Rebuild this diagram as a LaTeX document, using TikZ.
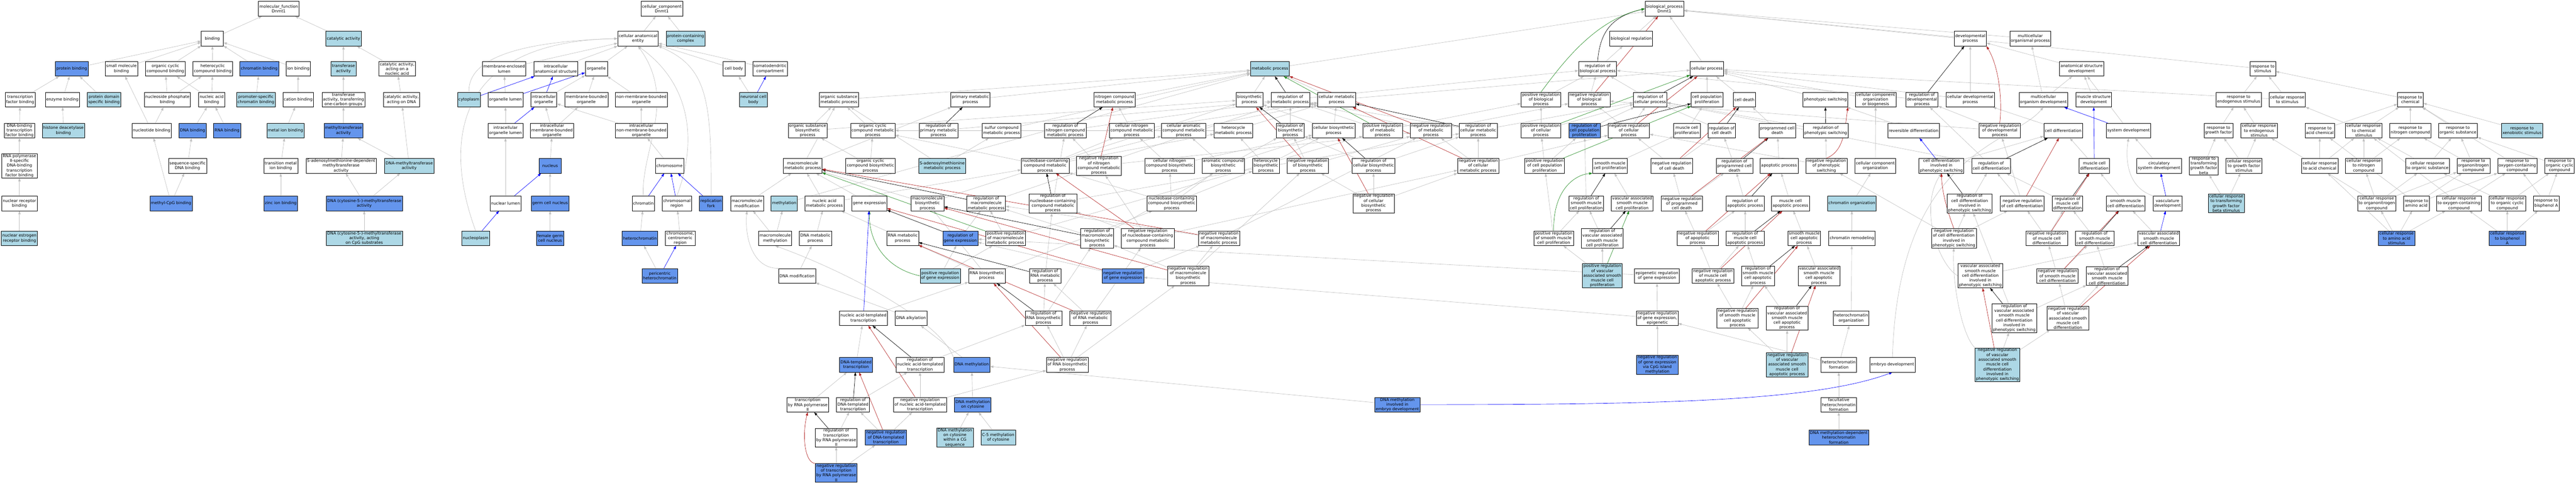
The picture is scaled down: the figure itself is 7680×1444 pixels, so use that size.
\documentclass[tikz,border=0pt]{standalone}
\usepackage{fontspec}
\setmainfont{DejaVu Sans}
\usepackage{xcolor}
\usetikzlibrary{arrows.meta, backgrounds}
\definecolor{lightblue}{HTML}{ADD8E6}
\definecolor{cornflower}{HTML}{6495ED}
\definecolor{edgegray}{HTML}{C0C0C0}
\definecolor{posgreen}{HTML}{228B22}
\definecolor{negred}{HTML}{B22222}
\begin{document}
\begin{tikzpicture}[x=1pt, y=-1pt,
    term/.style = {draw=black, line width=0.9pt, align=center,
        font=\fontsize{12}{14.3}\selectfont, inner xsep=3pt, inner ysep=1.5pt,
        minimum height=44pt, minimum width=66pt},
    wt/.style = {term, fill=white},
    lb/.style = {term, fill=lightblue},
    cb/.style = {term, fill=cornflower},
    isa/.style = {draw=edgegray, line width=1pt, arrows = {-Triangle[length=10pt, width=7pt]}},
    reg/.style = {isa, draw=black},
    posreg/.style = {isa, draw=posgreen},
    negreg/.style = {isa, draw=negred},
    partof/.style = {isa, draw=blue}]
    \useasboundingbox (0,0) rectangle (7680,1444);

    % molecular function
    \node[wt] (mf) at (831,26) {molecular\_function\\Dnmt1};
    \node[wt] (binding) at (633,115) {binding};
    \node[lb] (catact) at (1024,115) {catalytic activity};
    \node[cb] (protbind) at (214,205) {protein binding};
    \node[wt] (smallmol) at (362,205) {small molecule\\binding};
    \node[wt] (orgcycbind) at (493,205) {organic cyclic\\compound binding};
    \node[wt] (hetbind) at (634,205) {heterocyclic\\compound binding};
    \node[cb] (chrombind) at (773,205) {chromatin binding};
    \node[wt] (ionbind) at (889,205) {ion binding};
    \node[lb] (transf) at (1024,205) {transferase\\activity};
    \node[wt] (catnuc) at (1184,205) {catalytic activity,\\acting on a\\nucleic acid};
    \node[wt] (tfbind) at (60,297) {transcription\\factor binding};
    \node[wt] (enzbind) at (186,297) {enzyme binding};
    \node[lb] (pdsbind) at (310,297) {protein domain\\specific binding};
    \node[wt] (nucphos) at (499,297) {nucleoside phosphate\\binding};
    \node[wt] (nabind) at (631,297) {nucleic acid\\binding};
    \node[lb] (promchrom) at (763,297) {promoter-specific\\chromatin binding};
    \node[wt] (cation) at (889,297) {cation binding};
    \node[wt] (onecarbon) at (1024,297) {transferase\\activity, transferring\\one-carbon groups};
    \node[wt] (catdna) at (1197,297) {catalytic activity,\\acting on DNA};
    \node[wt] (dnatf) at (58,389) {DNA-binding\\transcription\\factor binding};
    \node[lb] (hdacbind) at (189,389) {histone deacetylase\\binding};
    \node[wt] (nucleotide) at (452,389) {nucleotide binding};
    \node[cb] (dnabind) at (574,389) {DNA binding};
    \node[cb] (rnabind) at (677,389) {RNA binding};
    \node[lb] (metalion) at (851,389) {metal ion binding};
    \node[cb] (mtase) at (1024,389) {methyltransferase\\activity};
    \node[wt] (pol2tf) at (58,494) {RNA polymerase\\II-specific\\DNA-binding\\transcription\\factor binding};
    \node[wt] (seqdna) at (559,494) {sequence-specific\\DNA binding};
    \node[wt] (transmetal) at (837,494) {transition metal\\ion binding};
    \node[wt] (samdep) at (1017,494) {S-adenosylmethionine-dependent\\methyltransferase\\activity};
    \node[lb] (dnamtase) at (1220,494) {DNA-methyltransferase\\activity};
    \node[wt] (nrbind) at (58,606) {nuclear receptor\\binding};
    \node[cb] (mecpg) at (510,606) {methyl-CpG binding};
    \node[cb] (zinc) at (837,606) {zinc ion binding};
    \node[cb] (dnmt) at (1086,606) {DNA (cytosine-5-)-methyltransferase\\activity};
    \node[lb] (nerbind) at (58,710) {nuclear estrogen\\receptor binding};
    \node[lb] (dnmtcpg) at (1086,710) {DNA (cytosine-5-)-methyltransferase\\activity, acting\\on CpG substrates};

    % cellular component
    \node[wt] (cc) at (1973,26) {cellular\_component\\Dnmt1};
    \node[wt] (cae) at (1902,115) {cellular anatomical\\entity};
    \node[lb] (pcc) at (2044,115) {protein-containing\\complex};
    \node[wt] (mel) at (1503,205) {membrane-enclosed\\lumen};
    \node[wt] (ias) at (1657,205) {intracellular\\anatomical structure};
    \node[wt] (organelle) at (1778,205) {organelle};
    \node[wt] (cellbody) at (2188,205) {cell body};
    \node[wt] (somato) at (2296,205) {somatodendritic\\compartment};
    \node[lb] (cytoplasm) at (1398,297) {cytoplasm};
    \node[wt] (orglumen) at (1507,297) {organelle lumen};
    \node[wt] (iorg) at (1621,297) {intracellular\\organelle};
    \node[wt] (mbo) at (1748,297) {membrane-bounded\\organelle};
    \node[wt] (nmbo) at (1912,297) {non-membrane-bounded\\organelle};
    \node[lb] (neurbody) at (2246,297) {neuronal cell\\body};
    \node[wt] (iol) at (1507,389) {intracellular\\organelle lumen};
    \node[wt] (imbo) at (1646,389) {intracellular\\membrane-bounded\\organelle};
    \node[wt] (inmbo) at (1912,389) {intracellular\\non-membrane-bounded\\organelle};
    \node[cb] (nucleus) at (1640,494) {nucleus};
    \node[wt] (chromosome) at (1996,494) {chromosome};
    \node[wt] (nuclumen) at (1507,606) {nuclear lumen};
    \node[cb] (germnuc) at (1640,606) {germ cell nucleus};
    \node[wt] (chromatin) at (1918,606) {chromatin};
    \node[wt] (chromreg) at (2018,606) {chromosomal\\region};
    \node[cb] (repfork) at (2120,606) {replication\\fork};
    \node[lb] (nucleoplasm) at (1418,710) {nucleoplasm};
    \node[cb] (femnuc) at (1640,710) {female germ\\cell nucleus};
    \node[cb] (hetchrom) at (1908,710) {heterochromatin};
    \node[wt] (centrom) at (2028,710) {chromosome,\\centromeric\\region};
    \node[cb] (pericen) at (1967,822) {pericentric\\heterochromatin};

    % biological process
    \node[wt] (bp) at (4962,26) {biological\_process\\Dnmt1};
    \node[wt] (bioreg) at (4863,115) {biological regulation};
    \node[wt] (devproc) at (5874,115) {developmental\\process};
    \node[wt] (mcorgproc) at (6053,115) {multicellular\\organismal process};
    \node[lb] (metab) at (3786,205) {metabolic process};
    \node[wt] (regbio) at (4763,205) {regulation of\\biological process};
    \node[wt] (cellproc) at (5089,205) {cellular process};
    \node[wt] (asdev) at (6206,205) {anatomical structure\\development};
    \node[wt] (respstim) at (6746,205) {response to\\stimulus};
    \node[wt] (orgsubmet) at (2501,297) {organic substance\\metabolic process};
    \node[wt] (primmet) at (2893,297) {primary metabolic\\process};
    \node[wt] (nitmet) at (3323,297) {nitrogen compound\\metabolic process};
    \node[wt] (biosyn) at (3725,297) {biosynthetic\\process};
    \node[wt] (regmet) at (3847,297) {regulation of\\metabolic process};
    \node[wt] (cellmet) at (3985,297) {cellular metabolic\\process};
    \node[wt] (posregbio) at (4594,297) {positive regulation\\of biological\\process};
    \node[wt] (negregbio) at (4738,297) {negative regulation\\of biological\\process};
    \node[wt] (regcell) at (4920,297) {regulation of\\cellular process};
    \node[wt] (cellpop) at (5089,297) {cell population\\proliferation};
    \node[wt] (celldeath) at (5201,297) {cell death};
    \node[wt] (phenosw) at (5442,297) {phenotypic switching};
    \node[wt] (ccob) at (5592,297) {cellular component\\organization\\or biogenesis};
    \node[wt] (regdev) at (5730,297) {regulation of\\developmental\\process};
    \node[wt] (celldevproc) at (5874,297) {cellular developmental\\process};
    \node[wt] (mcodev) at (6092,297) {multicellular\\organism development};
    \node[wt] (musdev) at (6242,297) {muscle structure\\development};
    \node[wt] (respendo) at (6674,297) {response to\\endogenous stimulus};
    \node[wt] (cellrespstim) at (6819,297) {cellular response\\to stimulus};
    \node[wt] (respchem) at (7186,297) {response to\\chemical};
    \node[wt] (orgsubbio) at (2408,389) {organic substance\\biosynthetic\\process};
    \node[wt] (orgcycmet) at (2602,389) {organic cyclic\\compound metabolic\\process};
    \node[wt] (regprimmet) at (2798,389) {regulation of\\primary metabolic\\process};
    \node[wt] (sulfmet) at (2986,389) {sulfur compound\\metabolic process};
    \node[wt] (regnitmet) at (3176,389) {regulation of\\nitrogen compound\\metabolic process};
    \node[wt] (cellnitmet) at (3374,389) {cellular nitrogen\\compound metabolic\\process};
    \node[wt] (cellaromet) at (3529,389) {cellular aromatic\\compound metabolic\\process};
    \node[wt] (hetcycmet) at (3677,389) {heterocycle\\metabolic process};
    \node[wt] (regbiosyn) at (3847,389) {regulation of\\biosynthetic\\process};
    \node[wt] (cellbiosyn) at (3976,389) {cellular biosynthetic\\process};
    \node[wt] (posregmet) at (4122,389) {positive regulation\\of metabolic\\process};
    \node[wt] (negregmet) at (4266,389) {negative regulation\\of metabolic\\process};
    \node[wt] (regcellmet) at (4407,389) {regulation of\\cellular metabolic\\process};
    \node[wt] (posregcell) at (4594,389) {positive regulation\\of cellular\\process};
    \node[cb] (regcellpop) at (4724,389) {regulation of\\cell population\\proliferation};
    \node[wt] (negregcell) at (4856,389) {negative regulation\\of cellular\\process};
    \node[wt] (muscprolif) at (5029,389) {muscle cell\\proliferation};
    \node[wt] (regcelldeath) at (5133,389) {regulation of\\cell death};
    \node[wt] (pcd) at (5299,389) {programmed cell\\death};
    \node[wt] (regpheno) at (5443,389) {regulation of\\phenotypic switching};
    \node[wt] (revdiff) at (5705,389) {reversible differentiation};
    \node[wt] (negregdev) at (5962,389) {negative regulation\\of developmental\\process};
    \node[wt] (celldiff) at (6151,389) {cell differentiation};
    \node[wt] (sysdev) at (6346,389) {system development};
    \node[wt] (respgf) at (6614,389) {response to\\growth factor};
    \node[wt] (crendo) at (6735,389) {cellular response\\to endogenous\\stimulus};
    \node[wt] (respacid) at (6916,389) {response to\\acid chemical};
    \node[wt] (crchem) at (7047,389) {cellular response\\to chemical\\stimulus};
    \node[wt] (respnit) at (7186,389) {response to\\nitrogen compound};
    \node[wt] (resporg) at (7328,389) {response to\\organic substance};
    \node[lb] (respxeno) at (7519,389) {response to\\xenobiotic stimulus};
    \node[wt] (macromet) at (2393,494) {macromolecule\\metabolic process};
    \node[wt] (orgcycbio) at (2595,494) {organic cyclic\\compound biosynthetic\\process};
    \node[lb] (sammet) at (2809,494) {S-adenosylmethionine\\metabolic process};
    \node[wt] (nbcmet) at (3116,494) {nucleobase-containing\\compound metabolic\\process};
    \node[wt] (negregnitmet) at (3276,494) {negative regulation\\of nitrogen\\compound metabolic\\process};
    \node[wt] (cellnitbio) at (3487,494) {cellular nitrogen\\compound biosynthetic\\process};
    \node[wt] (arobio) at (3647,494) {aromatic compound\\biosynthetic\\process};
    \node[wt] (hetcycbio) at (3774,494) {heterocycle\\biosynthetic\\process};
    \node[wt] (negregbiosyn) at (3899,494) {negative regulation\\of biosynthetic\\process};
    \node[wt] (regcellbio) at (4095,494) {regulation of\\cellular biosynthetic\\process};
    \node[wt] (negregcellmet) at (4407,494) {negative regulation\\of cellular\\metabolic process};
    \node[wt] (posregcellpop) at (4605,494) {positive regulation\\of cell population\\proliferation};
    \node[wt] (smcprolif) at (4800,494) {smooth muscle\\cell proliferation};
    \node[wt] (negregdeath) at (4984,494) {negative regulation\\of cell death};
    \node[wt] (regpcd) at (5171,494) {regulation of\\programmed cell\\death};
    \node[wt] (apoptotic) at (5304,494) {apoptotic process};
    \node[wt] (negregpheno) at (5445,494) {negative regulation\\of phenotypic\\switching};
    \node[wt] (ccorg) at (5591,494) {cellular component\\organization};
    \node[wt] (cdpheno) at (5788,494) {cell differentiation\\involved in\\phenotypic switching};
    \node[wt] (regcelldiff) at (5936,494) {regulation of\\cell differentiation};
    \node[wt] (muscdiff) at (6244,494) {muscle cell\\differentiation};
    \node[wt] (circdev) at (6437,494) {circulatory\\system development};
    \node[wt] (resptgf) at (6570,494) {response to\\transforming\\growth factor\\beta};
    \node[wt] (crgf) at (6690,494) {cellular response\\to growth factor\\stimulus};
    \node[wt] (cracid) at (6916,494) {cellular response\\to acid chemical};
    \node[wt] (crnit) at (7047,494) {cellular response\\to nitrogen\\compound};
    \node[wt] (crorg) at (7237,494) {cellular response\\to organic substance};
    \node[wt] (resporgnit) at (7374,494) {response to\\organonitrogen\\compound};
    \node[wt] (respoxy) at (7505,494) {response to\\oxygen-containing\\compound};
    \node[wt] (resporgcyc) at (7631,494) {response to\\organic cyclic\\compound};
    \node[wt] (macromod) at (2227,606) {macromolecule\\modification};
    \node[lb] (methylation) at (2338,606) {methylation};
    \node[wt] (nucmet) at (2458,606) {nucleic acid\\metabolic process};
    \node[wt] (geneexp) at (2592,606) {gene expression};
    \node[wt] (macrobio) at (2765,606) {macromolecule\\biosynthetic\\process};
    \node[wt] (regmacromet) at (2940,606) {regulation of\\macromolecule\\metabolic process};
    \node[wt] (regnbcmet) at (3139,606) {regulation of\\nucleobase-containing\\compound metabolic\\process};
    \node[wt] (nbcbio) at (3493,606) {nucleobase-containing\\compound biosynthetic\\process};
    \node[wt] (negregcellbio) at (4095,606) {negative regulation\\of cellular\\biosynthetic\\process};
    \node[wt] (regsmcprolif) at (4729,606) {regulation of\\smooth muscle\\cell proliferation};
    \node[wt] (vsmcprolif) at (4866,606) {vascular associated\\smooth muscle\\cell proliferation};
    \node[wt] (negregpcd) at (5014,606) {negative regulation\\of programmed\\cell death};
    \node[wt] (regapop) at (5203,606) {regulation of\\apoptotic process};
    \node[wt] (mcapop) at (5338,606) {muscle cell\\apoptotic process};
    \node[lb] (chromorg) at (5521,606) {chromatin organization};
    \node[wt] (regcdpheno) at (5872,606) {regulation of\\cell differentiation\\involved in\\phenotypic switching};
    \node[wt] (negregcelldiff) at (6029,606) {negative regulation\\of cell differentiation};
    \node[wt] (regmuscdiff) at (6164,606) {regulation of\\muscle cell\\differentiation};
    \node[wt] (smcdiff) at (6337,606) {smooth muscle\\cell differentiation};
    \node[wt] (vascdev) at (6462,606) {vasculature\\development};
    \node[lb] (crtgf) at (6637,606) {cellular response\\to transforming\\growth factor\\beta stimulus};
    \node[wt] (crorgnit) at (7086,606) {cellular response\\to organonitrogen\\compound};
    \node[wt] (respaa) at (7204,606) {response to\\amino acid};
    \node[wt] (croxy) at (7331,606) {cellular response\\to oxygen-containing\\compound};
    \node[wt] (crorgcyc) at (7475,606) {cellular response\\to organic cyclic\\compound};
    \node[wt] (respbpa) at (7591,606) {response to\\bisphenol A};
    \node[wt] (macromethyl) at (2311,710) {macromolecule\\methylation};
    \node[wt] (dnamet) at (2431,710) {DNA metabolic\\process};
    \node[wt] (rnamet) at (2691,710) {RNA metabolic\\process};
    \node[cb] (reggeneexp) at (2863,710) {regulation of\\gene expression};
    \node[wt] (posregmacromet) at (2998,710) {positive regulation\\of macromolecule\\metabolic process};
    \node[wt] (regmacrobio) at (3271,710) {regulation of\\macromolecule\\biosynthetic\\process};
    \node[wt] (negregnbcmet) at (3422,710) {negative regulation\\of nucleobase-containing\\compound metabolic\\process};
    \node[wt] (negregmacromet) at (3634,710) {negative regulation\\of macromolecule\\metabolic process};
    \node[wt] (posregsmcprolif) at (4632,710) {positive regulation\\of smooth muscle\\cell proliferation};
    \node[wt] (regvsmcprolif) at (4777,710) {regulation of\\vascular associated\\smooth muscle\\cell proliferation};
    \node[wt] (negregapop) at (5061,710) {negative regulation\\of apoptotic\\process};
    \node[wt] (regmcapop) at (5203,710) {regulation of\\muscle cell\\apoptotic process};
    \node[wt] (smcapop) at (5379,710) {smooth muscle\\cell apoptotic\\process};
    \node[wt] (chromremod) at (5521,710) {chromatin remodeling};
    \node[wt] (negregcdpheno) at (5825,710) {negative regulation\\of cell differentiation\\involved in\\phenotypic switching};
    \node[wt] (negregmuscdiff) at (6102,710) {negative regulation\\of muscle cell\\differentiation};
    \node[wt] (regsmcdiff) at (6245,710) {regulation of\\smooth muscle\\cell differentiation};
    \node[wt] (vsmcdiff) at (6436,710) {vascular associated\\smooth muscle\\cell differentiation};
    \node[cb] (craa) at (7145,710) {cellular response\\to amino acid\\stimulus};
    \node[cb] (crbpa) at (7475,710) {cellular response\\to bisphenol\\A};
    \node[wt] (dnamod) at (2376,822) {DNA modification};
    \node[lb] (posreggeneexp) at (2803,822) {positive regulation\\of gene expression};
    \node[wt] (rnabio) at (2942,822) {RNA biosynthetic\\process};
    \node[wt] (regrnamet) at (3116,822) {regulation of\\RNA metabolic\\process};
    \node[cb] (negreggeneexp) at (3348,822) {negative regulation\\of gene expression};
    \node[wt] (negregmacrobio) at (3542,822) {negative regulation\\of macromolecule\\biosynthetic\\process};
    \node[lb] (posregvsmcprolif) at (4777,822) {positive regulation\\of vascular\\associated smooth\\muscle cell\\proliferation};
    \node[wt] (epireg) at (4940,822) {epigenetic regulation\\of gene expression};
    \node[wt] (negregmcapop) at (5107,822) {negative regulation\\of muscle cell\\apoptotic process};
    \node[wt] (regsmcapop) at (5241,822) {regulation of\\smooth muscle\\cell apoptotic\\process};
    \node[wt] (vsmcapop) at (5423,822) {vascular associated\\smooth muscle\\cell apoptotic\\process};
    \node[wt] (vsmcdpheno) at (5904,822) {vascular associated\\smooth muscle\\cell differentiation\\involved in\\phenotypic switching};
    \node[wt] (negregsmcdiff) at (6134,822) {negative regulation\\of smooth muscle\\cell differentiation};
    \node[wt] (regvsmcdiff) at (6282,822) {regulation of\\vascular associated\\smooth muscle\\cell differentiation};
    \node[wt] (natrans) at (2574,948) {nucleic acid-templated\\transcription};
    \node[wt] (dnaalk) at (2716,948) {DNA alkylation};
    \node[wt] (regrnabio) at (3111,948) {regulation of\\RNA biosynthetic\\process};
    \node[wt] (negregrnamet) at (3251,948) {negative regulation\\of RNA metabolic\\process};
    \node[wt] (negregepi) at (4941,948) {negative regulation\\of gene expression,\\epigenetic};
    \node[wt] (negregsmcapop) at (5180,948) {negative regulation\\of smooth muscle\\cell apoptotic\\process};
    \node[wt] (regvsmcapop) at (5328,948) {regulation of\\vascular associated\\smooth muscle\\cell apoptotic\\process};
    \node[wt] (hetorg) at (5519,948) {heterochromatin\\organization};
    \node[wt] (regvsmcdpheno) at (6005,948) {regulation of\\vascular associated\\smooth muscle\\cell differentiation\\involved in\\phenotypic switching};
    \node[wt] (negregvsmcdiff) at (6165,948) {negative regulation\\of vascular\\associated smooth\\muscle cell\\differentiation};
    \node[cb] (dnatrans) at (2552,1087) {DNA-templated\\transcription};
    \node[wt] (regnatrans) at (2743,1087) {regulation of\\nucleic acid-templated\\transcription};
    \node[cb] (dnameth) at (2897,1087) {DNA methylation};
    \node[wt] (negregrnabio) at (3182,1087) {negative regulation\\of RNA biosynthetic\\process};
    \node[cb] (cpgmeth) at (4941,1087) {negative regulation\\of gene expression\\via CpG island\\methylation};
    \node[lb] (negregvsmcapop) at (5328,1087) {negative regulation\\of vascular\\associated smooth\\muscle cell\\apoptotic process};
    \node[wt] (hetform) at (5482,1087) {heterochromatin\\formation};
    \node[wt] (embdev) at (5642,1087) {embryo development};
    \node[lb] (negregvsmcdpheno) at (5955,1087) {negative regulation\\of vascular\\associated smooth\\muscle cell\\differentiation\\involved in\\phenotypic switching};
    \node[wt] (pol2trans) at (2408,1206) {transcription\\by RNA polymerase\\II};
    \node[wt] (regdnatrans) at (2543,1206) {regulation of\\DNA-templated\\transcription};
    \node[wt] (negregnatrans) at (2743,1206) {negative regulation\\of nucleic acid-templated\\transcription};
    \node[cb] (dnamethcyt) at (2900,1206) {DNA methylation\\on cytosine};
    \node[cb] (dnamethemb) at (4166,1206) {DNA methylation\\involved in\\embryo development};
    \node[wt] (facult) at (5482,1206) {facultative\\heterochromatin\\formation};
    \node[wt] (regpol2) at (2493,1304) {regulation of\\transcription\\by RNA polymerase\\II};
    \node[cb] (negregdnatrans) at (2641,1304) {negative regulation\\of DNA-templated\\transcription};
    \node[lb] (dnamethcg) at (2847,1304) {DNA methylation\\on cytosine\\within a CG\\sequence};
    \node[lb] (c5meth) at (2976,1304) {C-5 methylation\\of cytosine};
    \node[cb] (dnamethhet) at (5482,1304) {DNA methylation-dependent\\heterochromatin\\formation};
    \node[cb] (negregpol2) at (2493,1409) {negative regulation\\of transcription\\by RNA polymerase\\II};

    \begin{pgfonlayer}{background}
    % molecular function edges
    \draw[isa] (binding) -- (mf);
    \draw[isa] (catact) -- (mf);
    \draw[isa] (protbind) -- (binding);
    \draw[isa] (smallmol) -- (binding);
    \draw[isa] (orgcycbind) -- (binding);
    \draw[isa] (hetbind) -- (binding);
    \draw[isa] (chrombind) -- (binding);
    \draw[isa] (ionbind) -- (binding);
    \draw[isa] (transf) -- (catact);
    \draw[isa] (catnuc) -- (catact);
    \draw[isa] (tfbind) -- (protbind);
    \draw[isa] (enzbind) -- (protbind);
    \draw[isa] (pdsbind) -- (protbind);
    \draw[isa] (nucphos) -- (orgcycbind);
    \draw[isa] (nucphos) -- (hetbind);
    \draw[isa] (nabind) -- (orgcycbind);
    \draw[isa] (nabind) -- (hetbind);
    \draw[isa] (promchrom) -- (chrombind);
    \draw[isa] (cation) -- (ionbind);
    \draw[isa] (onecarbon) -- (transf);
    \draw[isa] (catdna) -- (catnuc);
    \draw[isa] (dnatf) -- (tfbind);
    \draw[isa] (hdacbind) -- (enzbind);
    \draw[isa] (nucleotide) -- (smallmol);
    \draw[isa] (nucleotide) -- (nucphos);
    \draw[isa] (dnabind) -- (nabind);
    \draw[isa] (rnabind) -- (nabind);
    \draw[isa] (metalion) -- (cation);
    \draw[isa] (mtase) -- (onecarbon);
    \draw[isa] (pol2tf) -- (dnatf);
    \draw[isa] (seqdna) -- (dnabind);
    \draw[isa] (transmetal) -- (metalion);
    \draw[isa] (samdep) -- (mtase);
    \draw[isa] (dnamtase) -- (mtase);
    \draw[isa] (dnamtase) -- (catdna);
    \draw[isa] (nrbind) -- (pol2tf);
    \draw[isa] (mecpg) -- (nucleotide);
    \draw[isa] (mecpg) -- (seqdna);
    \draw[isa] (zinc) -- (transmetal);
    \draw[isa] (dnmt) -- (samdep);
    \draw[isa] (dnmt) -- (dnamtase);
    \draw[isa] (nerbind) -- (nrbind);
    \draw[isa] (dnmtcpg) -- (dnmt);

    % cellular component edges
    \draw[isa] (cae) -- (cc);
    \draw[isa] (pcc) -- (cc);
    \draw[isa] (mel) -- (cae);
    \draw[isa] (ias) -- (cae);
    \draw[isa] (organelle) -- (cae);
    \draw[isa] (cellbody) -- (cae);
    \draw[isa] (somato) -- (cae);
    \draw[isa] (cytoplasm.north) .. controls (1395,190) and (1500,125) .. (cae.west);
    \draw[isa] (nucleoplasm.north) .. controls (1330,450) and (1330,125) .. (cae.west);
    \draw[isa] (chromatin.north) .. controls (1910,450) and (2020,300) .. (cae.south);
    \draw[isa] (chromreg.north) .. controls (2080,420) and (2060,250) .. (cae.south);
    \draw[isa] (repfork.north) .. controls (2121,300) and (2110,200) .. (cae.south east);
    \draw[isa] (orglumen) -- (mel);
    \draw[isa] (iorg) -- (organelle);
    \draw[isa] (mbo) -- (organelle);
    \draw[isa] (nmbo) -- (organelle);
    \draw[isa] (neurbody) -- (cellbody);
    \draw[isa] (iol) -- (orglumen);
    \draw[isa] (imbo) -- (iorg);
    \draw[isa] (imbo) -- (mbo);
    \draw[isa] (inmbo) -- (iorg);
    \draw[isa] (inmbo) -- (nmbo);
    \draw[isa] (nucleus) -- (imbo);
    \draw[isa] (chromosome) -- (inmbo);
    \draw[isa] (nuclumen) -- (iol);
    \draw[isa] (germnuc) -- (nucleus);
    \draw[isa] (femnuc) -- (germnuc);
    \draw[isa] (hetchrom) -- (chromatin);
    \draw[isa] (centrom) -- (chromreg);
    \draw[isa] (pericen) -- (hetchrom);
    \draw[partof] (cytoplasm) -- (ias);
    \draw[partof] (orglumen) -- (organelle);
    \draw[partof] (iorg) -- (ias);
    \draw[partof] (neurbody) -- (somato);
    \draw[partof] (iol) -- (iorg);
    \draw[partof] (nuclumen) -- (nucleus);
    \draw[partof] (chromatin) -- (chromosome);
    \draw[partof] (chromreg) -- (chromosome);
    \draw[partof] (repfork) -- (chromosome);
    \draw[partof] (nucleoplasm) -- (nuclumen);
    \draw[partof] (pericen) -- (centrom);

    % biological process edges
    \draw[isa] (bioreg) -- (bp);
    \draw[isa] (metab) -- (bp);
    \draw[isa] (cellproc) -- (bp);
    \draw[isa] (devproc) -- (bp);
    \draw[isa] (mcorgproc) -- (bp);
    \draw[isa] (respstim) -- (bp);
    \draw[isa] (regbio) -- (bioreg);
    \draw[isa] (posregbio) -- (regbio);
    \draw[isa] (negregbio) -- (regbio);
    \draw[isa] (asdev) -- (devproc);
    \draw[isa] (orgsubmet) -- (metab);
    \draw[isa] (primmet) -- (metab);
    \draw[isa] (nitmet) -- (metab);
    \draw[isa] (biosyn) -- (metab);
    \draw[isa] (cellmet) -- (metab);
    \draw[isa] (cellmet) -- (cellproc);
    \draw[isa] (regmet) -- (regbio);
    \draw[isa] (sulfmet) -- (metab);
    \draw[isa] (methylation) -- (metab);
    \draw[isa] (regcell) -- (regbio);
    \draw[isa] (posregcell) -- (posregbio);
    \draw[isa] (posregcell) -- (regcell);
    \draw[isa] (negregcell) -- (negregbio);
    \draw[isa] (negregcell) -- (regcell);
    \draw[isa] (cellpop) -- (cellproc);
    \draw[isa] (celldeath) -- (cellproc);
    \draw[isa] (phenosw) -- (cellproc);
    \draw[isa] (ccob) -- (cellproc);
    \draw[isa] (celldevproc) -- (devproc);
    \draw[isa] (celldevproc) -- (cellproc);
    \draw[isa] (cellrespstim) -- (cellproc);
    \draw[isa] (cellrespstim) -- (respstim);
    \draw[isa] (respendo) -- (respstim);
    \draw[isa] (respchem) -- (respstim);
    \draw[isa] (regdev) -- (regbio);
    \draw[isa] (negregdev) -- (regdev);
    \draw[isa] (negregdev) -- (negregbio);
    \draw[isa] (mcodev) -- (mcorgproc);
    \draw[isa] (mcodev) -- (asdev);
    \draw[isa] (musdev) -- (asdev);
    \draw[isa] (sysdev) -- (asdev);
    \draw[isa] (orgsubbio) -- (orgsubmet);
    \draw[isa] (orgsubbio) -- (biosyn);
    \draw[isa] (orgcycmet) -- (orgsubmet);
    \draw[isa] (regprimmet) -- (regmet);
    \draw[isa] (regnitmet) -- (regmet);
    \draw[isa] (cellnitmet) -- (nitmet);
    \draw[isa] (cellnitmet) -- (cellmet);
    \draw[isa] (cellaromet) -- (cellmet);
    \draw[isa] (hetcycmet) -- (orgcycmet);
    \draw[isa] (hetcycmet) -- (cellmet);
    \draw[isa] (regbiosyn) -- (regmet);
    \draw[isa] (cellbiosyn) -- (biosyn);
    \draw[isa] (cellbiosyn) -- (cellmet);
    \draw[isa] (posregmet) -- (regmet);
    \draw[isa] (posregmet) -- (posregbio);
    \draw[isa] (negregmet) -- (regmet);
    \draw[isa] (negregmet) -- (negregbio);
    \draw[isa] (regcellmet) -- (regmet);
    \draw[isa] (regcellmet) -- (regcell);
    \draw[isa] (regcellpop) -- (regcell);
    \draw[isa] (muscprolif) -- (cellpop);
    \draw[isa] (regcelldeath) -- (regcell);
    \draw[isa] (pcd) -- (celldeath);
    \draw[isa] (regpheno) -- (regcell);
    \draw[isa] (revdiff) -- (phenosw);
    \draw[isa] (celldiff) -- (celldevproc);
    \draw[isa] (circdev) -- (sysdev);
    \draw[isa] (vascdev.north west) .. controls (6345,560) and (6335,480) .. (sysdev.south);
    \draw[isa] (respgf) -- (respendo);
    \draw[isa] (crendo) -- (respendo);
    \draw[isa] (respacid) -- (respchem);
    \draw[isa] (crchem) -- (respchem);
    \draw[isa] (crchem) -- (cellrespstim);
    \draw[isa] (respnit) -- (respchem);
    \draw[isa] (resporg) -- (respchem);
    \draw[isa] (respxeno) -- (respchem);
    \draw[isa] (macromet) -- (orgsubmet);
    \draw[isa] (macromet) -- (primmet);
    \draw[isa] (orgcycbio) -- (orgcycmet);
    \draw[isa] (orgcycbio) -- (orgsubbio);
    \draw[isa] (sammet) -- (sulfmet);
    \draw[isa] (sammet) -- (orgsubmet);
    \draw[isa] (nbcmet) -- (orgcycmet);
    \draw[isa] (nbcmet) -- (cellnitmet);
    \draw[isa] (nbcmet) -- (cellaromet);
    \draw[isa] (nbcmet) -- (hetcycmet);
    \draw[isa] (negregnitmet) -- (regnitmet);
    \draw[isa] (negregnitmet) -- (negregmet);
    \draw[isa] (cellnitbio) -- (cellnitmet);
    \draw[isa] (cellnitbio) -- (cellbiosyn);
    \draw[isa] (arobio) -- (cellaromet);
    \draw[isa] (arobio) -- (cellbiosyn);
    \draw[isa] (hetcycbio) -- (hetcycmet);
    \draw[isa] (hetcycbio) -- (cellbiosyn);
    \draw[isa] (negregbiosyn) -- (regbiosyn);
    \draw[isa] (negregbiosyn) -- (negregmet);
    \draw[isa] (regcellbio) -- (regbiosyn);
    \draw[isa] (regcellbio) -- (regcellmet);
    \draw[isa] (negregcellmet) -- (regcellmet);
    \draw[isa] (negregcellmet) -- (negregmet);
    \draw[isa] (negregcellmet) -- (negregcell);
    \draw[isa] (posregcellpop) -- (regcellpop);
    \draw[isa] (posregcellpop) -- (posregcell);
    \draw[isa] (smcprolif) -- (muscprolif);
    \draw[isa] (negregdeath) -- (regcelldeath);
    \draw[isa] (negregdeath) -- (negregcell);
    \draw[isa] (regpcd) -- (regcelldeath);
    \draw[isa] (apoptotic) -- (pcd);
    \draw[isa] (negregpheno) -- (regpheno);
    \draw[isa] (negregpheno) -- (negregcell);
    \draw[isa] (ccorg) -- (ccob);
    \draw[isa] (cdpheno) -- (celldiff);
    \draw[isa] (regcelldiff) -- (regdev);
    \draw[isa] (regcelldiff) -- (regcell);
    \draw[isa] (muscdiff) -- (celldiff);
    \draw[isa] (resptgf) -- (respgf);
    \draw[isa] (crgf) -- (respgf);
    \draw[isa] (crgf) -- (crendo);
    \draw[isa] (cracid) -- (respacid);
    \draw[isa] (cracid) -- (crchem);
    \draw[isa] (crnit) -- (crchem);
    \draw[isa] (crnit) -- (respnit);
    \draw[isa] (crorg) -- (crchem);
    \draw[isa] (crorg) -- (resporg);
    \draw[isa] (resporgnit) -- (respnit);
    \draw[isa] (resporgnit) -- (resporg);
    \draw[isa] (respoxy) -- (respchem);
    \draw[isa] (resporgcyc) -- (resporg);
    \draw[isa] (macromod) -- (macromet);
    \draw[isa] (nucmet) -- (macromet);
    \draw[isa] (nucmet) -- (nbcmet);
    \draw[isa] (geneexp) -- (macromet);
    \draw[isa] (macrobio) -- (macromet);
    \draw[isa] (macrobio) -- (biosyn);
    \draw[isa] (regmacromet) -- (regmet);
    \draw[isa] (regnbcmet) -- (regnitmet);
    \draw[isa] (regnbcmet) -- (regcellmet);
    \draw[isa] (nbcbio) -- (nbcmet);
    \draw[isa] (nbcbio) -- (cellnitbio);
    \draw[isa] (nbcbio) -- (arobio);
    \draw[isa] (nbcbio) -- (hetcycbio);
    \draw[isa] (negregcellbio) -- (regcellbio);
    \draw[isa] (negregcellbio) -- (negregbiosyn);
    \draw[isa] (negregcellbio) -- (negregcellmet);
    \draw[isa] (regsmcprolif) -- (regcellpop);
    \draw[isa] (vsmcprolif) -- (smcprolif);
    \draw[isa] (negregpcd) -- (regpcd);
    \draw[isa] (negregpcd) -- (negregdeath);
    \draw[isa] (regapop) -- (regpcd);
    \draw[isa] (mcapop) -- (apoptotic);
    \draw[isa] (chromorg) -- (ccorg);
    \draw[isa] (regcdpheno) -- (regcelldiff);
    \draw[isa] (negregcelldiff) -- (regcelldiff);
    \draw[isa] (negregcelldiff) -- (negregdev);
    \draw[isa] (regmuscdiff) -- (regcelldiff);
    \draw[isa] (smcdiff) -- (muscdiff);
    \draw[isa] (crtgf) -- (resptgf);
    \draw[isa] (crtgf) -- (crgf);
    \draw[isa] (crorgnit) -- (resporgnit);
    \draw[isa] (crorgnit) -- (crnit);
    \draw[isa] (crorgnit) -- (crorg);
    \draw[isa] (crorgnit) -- (crendo);
    \draw[isa] (respaa) -- (resporgnit);
    \draw[isa] (respaa) -- (respacid);
    \draw[isa] (respaa) -- (respoxy);
    \draw[isa] (croxy) -- (respoxy);
    \draw[isa] (croxy) -- (crchem);
    \draw[isa] (crorgcyc) -- (resporgcyc);
    \draw[isa] (crorgcyc) -- (crorg);
    \draw[isa] (respbpa) -- (resporgcyc);
    \draw[isa] (respbpa) -- (respoxy);
    \draw[isa] (macromethyl) -- (macromod);
    \draw[isa] (macromethyl) -- (methylation);
    \draw[isa] (dnamet) -- (nucmet);
    \draw[isa] (rnamet) -- (nucmet);
    \draw[isa] (reggeneexp) -- (regmacromet);
    \draw[isa] (posregmacromet) -- (regmacromet);
    \draw[isa] (posregmacromet) -- (posregmet);
    \draw[isa] (regmacrobio) -- (regmacromet);
    \draw[isa] (regmacrobio) -- (regbiosyn);
    \draw[isa] (negregnbcmet) -- (regnbcmet);
    \draw[isa] (negregnbcmet) -- (negregnitmet);
    \draw[isa] (negregnbcmet) -- (negregcellmet);
    \draw[isa] (negregmacromet) -- (regmacromet);
    \draw[isa] (negregmacromet) -- (negregmet);
    \draw[isa] (posregsmcprolif) -- (regsmcprolif);
    \draw[isa] (posregsmcprolif) -- (posregcellpop);
    \draw[isa] (regvsmcprolif) -- (regsmcprolif);
    \draw[isa] (negregapop) -- (regapop);
    \draw[isa] (negregapop) -- (negregpcd);
    \draw[isa] (regmcapop) -- (regapop);
    \draw[isa] (smcapop) -- (mcapop);
    \draw[isa] (chromremod) -- (chromorg);
    \draw[isa] (negregcdpheno) -- (regcdpheno);
    \draw[isa] (negregcdpheno) -- (negregcelldiff);
    \draw[isa] (negregcdpheno) -- (negregpheno);
    \draw[isa] (negregmuscdiff) -- (regmuscdiff);
    \draw[isa] (negregmuscdiff) -- (negregcelldiff);
    \draw[isa] (regsmcdiff) -- (regmuscdiff);
    \draw[isa] (vsmcdiff) -- (smcdiff);
    \draw[isa] (craa) -- (respaa);
    \draw[isa] (craa) -- (crorgnit);
    \draw[isa] (craa) -- (cracid);
    \draw[isa] (craa) -- (croxy);
    \draw[isa] (crbpa) -- (respbpa);
    \draw[isa] (crbpa) -- (crorgcyc);
    \draw[isa] (crbpa) -- (croxy);
    \draw[isa] (dnamod) -- (dnamet);
    \draw[isa] (dnamod.north west) .. controls (2240,800) and (2220,700) .. (macromod.south);
    \draw[isa] (posreggeneexp) -- (reggeneexp);
    \draw[isa] (posreggeneexp) -- (posregmacromet);
    \draw[isa] (rnabio) -- (rnamet);
    \draw[isa] (rnabio) -- (nbcbio);
    \draw[isa] (rnabio) -- (macrobio);
    \draw[isa] (regrnamet) -- (regnbcmet);
    \draw[isa] (negreggeneexp) -- (reggeneexp);
    \draw[isa] (negreggeneexp) -- (negregmacromet);
    \draw[isa] (negregmacrobio) -- (regmacrobio);
    \draw[isa] (negregmacrobio) -- (negregmacromet);
    \draw[isa] (negregmacrobio) -- (negregbiosyn);
    \draw[isa] (posregvsmcprolif) -- (regvsmcprolif);
    \draw[isa] (posregvsmcprolif) -- (posregsmcprolif);
    \draw[isa] (epireg) -- (reggeneexp);
    \draw[isa] (negregmcapop) -- (regmcapop);
    \draw[isa] (negregmcapop) -- (negregapop);
    \draw[isa] (regsmcapop) -- (regmcapop);
    \draw[isa] (vsmcapop) -- (smcapop);
    \draw[isa] (vsmcdpheno.west) .. controls (5780,790) and (5720,620) .. (cdpheno.south);
    \draw[isa] (vsmcdpheno) -- (vsmcdiff);
    \draw[isa] (negregsmcdiff) -- (regsmcdiff);
    \draw[isa] (negregsmcdiff) -- (negregmuscdiff);
    \draw[isa] (regvsmcdiff) -- (regsmcdiff);
    \draw[isa] (natrans) -- (rnabio);
    \draw[isa] (dnaalk) -- (dnamod);
    \draw[isa] (regrnabio) -- (regrnamet);
    \draw[isa] (regrnabio) -- (regmacrobio);
    \draw[isa] (negregrnamet) -- (regrnamet);
    \draw[isa] (negregrnamet) -- (negregnbcmet);
    \draw[isa] (negregepi) -- (epireg);
    \draw[isa] (negregepi) -- (negreggeneexp);
    \draw[isa] (negregsmcapop) -- (regsmcapop);
    \draw[isa] (negregsmcapop) -- (negregmcapop);
    \draw[isa] (regvsmcapop) -- (regsmcapop);
    \draw[isa] (hetorg) -- (chromremod);
    \draw[isa] (regvsmcdpheno) -- (regcdpheno);
    \draw[isa] (regvsmcdpheno) -- (regvsmcdiff);
    \draw[isa] (negregvsmcdiff) -- (regvsmcdiff);
    \draw[isa] (negregvsmcdiff) -- (negregsmcdiff);
    \draw[isa] (dnatrans) -- (natrans);
    \draw[isa] (regnatrans) -- (regrnabio);
    \draw[isa] (dnameth) -- (dnaalk);
    \draw[isa] (dnameth.north west) .. controls (2800,950) and (2500,800) .. (macromethyl.south);
    \draw[isa] (negregrnabio) -- (regrnabio);
    \draw[isa] (negregrnabio) -- (negregrnamet);
    \draw[isa] (negregrnabio) -- (negregmacrobio);
    \draw[isa] (cpgmeth) -- (negregepi);
    \draw[isa] (negregvsmcapop) -- (regvsmcapop);
    \draw[isa] (negregvsmcapop) -- (negregsmcapop);
    \draw[isa] (hetform) -- (hetorg);
    \draw[isa] (hetform) -- (negregepi);
    \draw[isa] (embdev.north) .. controls (5660,450) and (6000,430) .. (mcodev.south);
    \draw[isa] (negregvsmcdpheno) -- (regvsmcdpheno);
    \draw[isa] (negregvsmcdpheno) -- (negregvsmcdiff);
    \draw[isa] (negregvsmcdpheno.north west) .. controls (5850,1000) and (5820,850) .. (negregcdpheno.south);
    \draw[isa] (pol2trans) -- (dnatrans);
    \draw[isa] (regdnatrans) -- (regnatrans);
    \draw[isa] (negregnatrans) -- (regnatrans);
    \draw[isa] (negregnatrans) -- (negregrnabio);
    \draw[isa] (dnamethcyt) -- (dnameth);
    \draw[isa] (dnamethemb) -- (dnameth);
    \draw[isa] (facult) -- (hetform);
    \draw[isa] (regpol2) -- (regdnatrans);
    \draw[isa] (negregdnatrans) -- (regdnatrans);
    \draw[isa] (negregdnatrans) -- (negregnatrans);
    \draw[isa] (dnamethcg) -- (dnamethcyt);
    \draw[isa] (c5meth) -- (dnamethcyt);
    \draw[isa] (dnamethhet) -- (facult);
    \draw[isa] (negregpol2) -- (regpol2);
    \draw[isa] (negregpol2) -- (negregdnatrans);

    % regulates
    \draw[reg] (regbio.north) .. controls (4770,100) and (4800,50) .. (bp.west);
    \draw[reg] (regmet) -- (metab);
    \draw[reg] (regcell) -- (cellproc);
    \draw[reg] (regprimmet) -- (primmet);
    \draw[reg] (regnitmet) -- (nitmet);
    \draw[reg] (regbiosyn) -- (biosyn);
    \draw[reg] (regcellmet) -- (cellmet);
    \draw[reg] (regcellpop) -- (cellpop);
    \draw[reg] (regcelldeath) -- (celldeath);
    \draw[reg] (regpheno) -- (phenosw);
    \draw[reg] (regdev) -- (devproc);
    \draw[reg] (regcellbio) -- (cellbiosyn);
    \draw[reg] (regpcd) -- (pcd);
    \draw[reg] (regcelldiff) -- (celldiff);
    \draw[reg] (regmacromet) -- (macromet);
    \draw[reg] (regnbcmet) -- (nbcmet);
    \draw[reg] (regsmcprolif) -- (smcprolif);
    \draw[reg] (regapop) -- (apoptotic);
    \draw[reg] (regcdpheno) -- (cdpheno);
    \draw[reg] (regmuscdiff) -- (muscdiff);
    \draw[reg] (reggeneexp) -- (geneexp);
    \draw[reg] (regmacrobio) -- (macrobio);
    \draw[reg] (regvsmcprolif) -- (vsmcprolif);
    \draw[reg] (regmcapop) -- (mcapop);
    \draw[reg] (regsmcdiff) -- (smcdiff);
    \draw[reg] (regrnamet) -- (rnamet);
    \draw[reg] (regsmcapop) -- (smcapop);
    \draw[reg] (regvsmcdiff) -- (vsmcdiff);
    \draw[reg] (regrnabio) -- (rnabio);
    \draw[reg] (regvsmcapop) -- (vsmcapop);
    \draw[reg] (regvsmcdpheno) -- (vsmcdpheno);
    \draw[reg] (regnatrans) -- (natrans);
    \draw[reg] (regdnatrans) -- (dnatrans);
    \draw[reg] (regpol2) -- (pol2trans);

    % positively regulates
    \draw[posreg] (posregbio.north) .. controls (4650,200) and (4750,60) .. (bp.west);
    \draw[posreg] (posregcell) -- (cellproc);
    \draw[posreg] (posregmet) -- (metab);
    \draw[posreg] (posregcellpop) -- (cellpop);
    \draw[posreg] (posregmacromet) -- (macromet);
    \draw[posreg] (posregsmcprolif.north) .. controls (4630,560) and (4700,520) .. (smcprolif.south west);
    \draw[posreg] (posreggeneexp.west) .. controls (2640,800) and (2590,720) .. (geneexp.south);
    \draw[posreg] (posregvsmcprolif) -- (vsmcprolif);

    % negatively regulates
    \draw[negreg] (negregbio) -- (bp);
    \draw[negreg] (negregcell) -- (cellproc);
    \draw[negreg] (negregmet) -- (metab);
    \draw[negreg] (negregdev.north) .. controls (5970,300) and (5960,200) .. (devproc.south east);
    \draw[negreg] (negregnitmet) -- (nitmet);
    \draw[negreg] (negregbiosyn) -- (biosyn);
    \draw[negreg] (negregcellmet) -- (cellmet);
    \draw[negreg] (negregdeath) -- (celldeath);
    \draw[negreg] (negregpheno.north) .. controls (5500,450) and (5500,380) .. (phenosw.south east);
    \draw[negreg] (negregcellbio) -- (cellbiosyn);
    \draw[negreg] (negregpcd) -- (pcd);
    \draw[negreg] (negregcelldiff) -- (celldiff);
    \draw[negreg] (negregnbcmet) -- (nbcmet);
    \draw[negreg] (negregmacromet) -- (macromet);
    \draw[negreg] (negregapop) -- (apoptotic);
    \draw[negreg] (negregcdpheno.north) .. controls (5810,640) and (5790,580) .. (cdpheno.south);
    \draw[negreg] (negregmuscdiff) -- (muscdiff);
    \draw[negreg] (negreggeneexp) -- (geneexp);
    \draw[negreg] (negregmacrobio) -- (macrobio);
    \draw[negreg] (negregmcapop) -- (mcapop);
    \draw[negreg] (negregsmcdiff) -- (smcdiff);
    \draw[negreg] (negregrnamet) -- (rnamet);
    \draw[negreg] (negregsmcapop) -- (smcapop);
    \draw[negreg] (negregvsmcdiff) -- (vsmcdiff);
    \draw[negreg] (negregrnabio) -- (rnabio);
    \draw[negreg] (negregvsmcapop) -- (vsmcapop);
    \draw[negreg] (negregvsmcdpheno) -- (vsmcdpheno);
    \draw[negreg] (negregnatrans) -- (natrans);
    \draw[negreg] (negregdnatrans) -- (dnatrans);
    \draw[negreg] (negregpol2.north west) .. controls (2400,1380) and (2390,1300) .. (pol2trans.south);

    % part of
    \draw[partof] (natrans) -- (geneexp);
    \draw[partof] (cdpheno) -- (revdiff);
    \draw[partof] (muscdiff) -- (musdev);
    \draw[partof] (sysdev) -- (mcodev);
    \draw[partof] (vsmcdiff) -- (vascdev);
    \draw[partof] (vascdev) -- (circdev);
    \draw[partof] (dnamethemb.east) .. controls (4900,1205) and (5400,1200) .. (embdev.south);
    \end{pgfonlayer}
\end{tikzpicture}
\end{document}
